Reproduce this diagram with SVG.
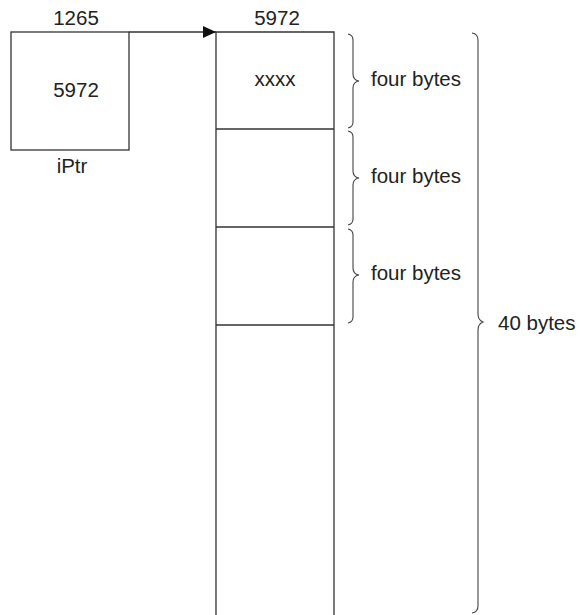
<svg xmlns="http://www.w3.org/2000/svg" width="580" height="615" viewBox="0 0 580 615">
<style>
text{font-family:"Liberation Sans",Arial,sans-serif;font-size:20.5px;fill:#222}
.box{fill:none;stroke:#333;stroke-width:1.3}
.brace{fill:none;stroke:#444;stroke-width:1.1}
.conn{fill:none;stroke:#333;stroke-width:1.3}
</style>
<defs>
<marker id="ah" markerWidth="13" markerHeight="12" refX="13" refY="6" orient="auto" markerUnits="userSpaceOnUse">
<path d="M0,0 L13,6 L0,12 Z" fill="#111"/>
</marker>
</defs>
<g id="iPtr">
<rect class="box" x="11" y="32" width="118" height="118"/>
<text x="76" y="25" text-anchor="middle">1265</text>
<text x="76" y="97" text-anchor="middle">5972</text>
<text x="72" y="173" text-anchor="middle">iPtr</text>
</g>
<g id="array">
<path class="box" d="M216,615 V32 H334 V615"/>
<line class="box" x1="216" y1="129" x2="334" y2="129"/>
<line class="box" x1="216" y1="227" x2="334" y2="227"/>
<line class="box" x1="216" y1="325" x2="334" y2="325" stroke-width="2"/>
<text x="277" y="25" text-anchor="middle">5972</text>
<text x="275" y="86" text-anchor="middle">xxxx</text>
</g>
<g id="brace1">
<path class="brace" d="M348,34 Q353,35 353,40 V74 Q353,80 359,81 Q353,82 353,88 V122 Q353,127 348,128"/>
<text x="371" y="86">four bytes</text>
</g>
<g id="brace2">
<path class="brace" d="M348,131 Q353,132 353,137 V171 Q353,177 359,178 Q353,179 353,185 V219 Q353,224 348,225"/>
<text x="371" y="183">four bytes</text>
</g>
<g id="brace3">
<path class="brace" d="M348,229 Q353,230 353,235 V268 Q353,274 359,275 Q353,276 353,282 V317 Q353,322 348,323"/>
<text x="371" y="280">four bytes</text>
</g>
<g id="brace40">
<path class="brace" d="M472,33 Q478,34 478,40 V314 Q478,320 483,322 Q478,324 478,330 V606 Q478,612 472,613"/>
<text x="498" y="330">40 bytes</text>
</g>
<g id="connectors">
<line class="conn" x1="129" y1="32" x2="216" y2="32" marker-end="url(#ah)"/>
</g>
</svg>
